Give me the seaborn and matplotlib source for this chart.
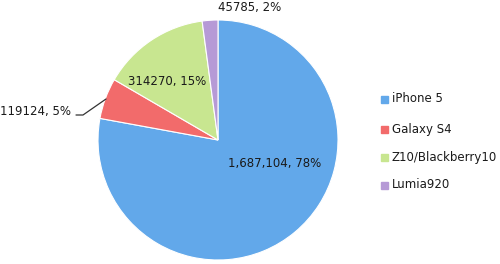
import matplotlib
matplotlib.use("Agg")
import matplotlib.pyplot as plt
import seaborn as sns

sns.set_theme(style="white")
plt.rcParams['font.family'] = ['DejaVu Sans']

categories = ["iPhone 5", "Galaxy S4", "Z10/Blackberry10", "Lumia920"]
values = [1687104, 119124, 314270, 45785]
value_labels = ["1,687,104", "119124", "314270", "45785"]
colors = ["#62A8EA", "#F26B6B", "#C8E690", "#B69AD6"]

W, H = 500, 264
fig = plt.figure(figsize=(W / 100, H / 100), dpi=100)
ax = fig.add_axes([0, 0, 1, 1])

cx, cy, r = 218, H - 140, 120
wedges, _ = ax.pie(values, colors=colors, startangle=90, counterclock=False,
                   radius=r, center=(cx, cy),
                   wedgeprops=dict(edgecolor="white", linewidth=0.8))
ax.set_xlim(0, W)
ax.set_ylim(0, H)
ax.set_aspect("equal")
ax.axis("off")

total = sum(values)
pcts = [round(v / total * 100) for v in values]
label_pos = [(275, 163, "center"), (36, 111, "center"), (167, 81, "center"), (250, 8, "center")]
for (x, y, ha), vl, p in zip(label_pos, value_labels, pcts):
    ax.text(x, H - y, f"{vl}, {p}%", ha=ha, va="center", fontsize=8.5, color="#1a1a1a")

# leader line for Galaxy S4
ax.plot([76, 83, 106], [H - 115, H - 115, H - 99], color="#333333", lw=0.9)

# legend
leg_y = [99, 129, 157, 185]
for c, name, y in zip(colors, categories, leg_y):
    ax.add_patch(plt.Rectangle((381, H - y - 3.5), 7, 7, color=c))
    ax.text(392, H - y, name, ha="left", va="center", fontsize=8.5, color="#1a1a1a")

fig.savefig("out.png", dpi=100)
